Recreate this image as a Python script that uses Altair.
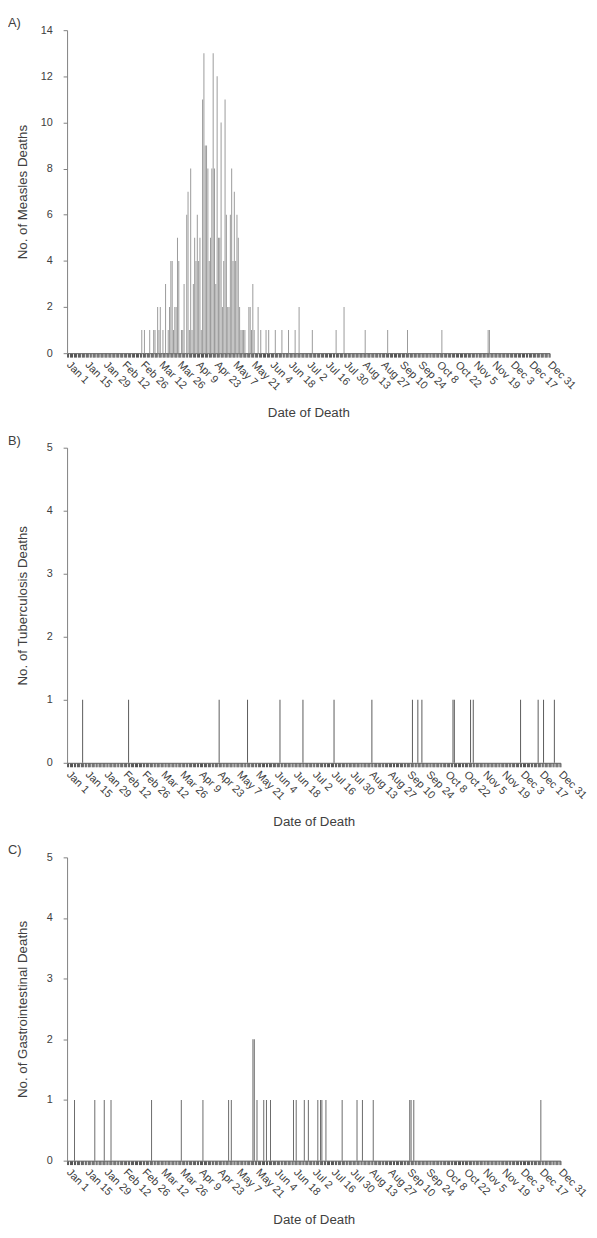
import json
import altair as alt
import pandas as pd

# ---- axis tick labels (every 14 days) ----
TICK_DAYS = [1, 15, 29, 43, 57, 71, 85, 99, 113, 127, 141, 155, 169, 183,
             197, 211, 225, 239, 253, 267, 281, 295, 309, 323, 337, 351, 365]
TICK_LABELS = ["Jan 1", "Jan 15", "Jan 29", "Feb 12", "Feb 26", "Mar 12", "Mar 26",
               "Apr 9", "Apr 23", "May 7", "May 21", "Jun 4", "Jun 18", "Jul 2",
               "Jul 16", "Jul 30", "Aug 13", "Aug 27", "Sep 10", "Sep 24", "Oct 8",
               "Oct 22", "Nov 5", "Nov 19", "Dec 3", "Dec 17", "Dec 31"]
N_DAYS = 365

# ---- Measles deaths (day of year, count) ----
MEASLES_DAYS = [57, 59, 63, 66, 67, 69, 70, 71, 73, 75, 77, 78, 79, 80, 81, 82, 83, 84, 85,
                87, 88, 89, 91, 92, 93, 94, 95,
                96, 97, 98, 99, 100, 101, 102, 103, 104, 105, 106, 107, 108, 109, 110, 111,
                112, 113, 114, 115, 116, 117, 118, 119, 120, 121, 122, 123, 124, 125, 126,
                127, 128, 129, 130, 131, 132, 133, 134, 135, 138, 139, 140, 141, 142, 145,
                147, 151, 153, 158, 163, 168, 173, 176, 186, 204, 210, 226, 243, 258, 284,
                319, 320]
MEASLES_COUNTS = [1, 1, 1, 1, 1, 2, 1, 2, 1, 3, 1, 2, 4, 4, 1, 2, 2, 5, 4,
                  1, 1, 3, 6, 7, 1, 8, 1,
                  3, 5, 4, 6, 4, 5, 1, 11, 13, 9, 9, 8, 4, 5, 8, 13,
                  8, 3, 12, 5, 5, 10, 2, 4, 11, 6, 2, 2, 6, 8, 4,
                  7, 4, 6, 5, 2, 1, 1, 1, 1, 2, 2, 1, 3, 1, 2,
                  1, 1, 1, 1, 1, 1, 1, 2, 1, 1, 2, 1, 1, 1, 1,
                  1, 1]

# ---- Tuberculosis deaths ----
TB_DAYS = [12, 46, 113, 134, 158, 175, 198, 226, 256, 260, 263, 286, 287, 299, 301,
           336, 349, 353, 361]
TB_COUNTS = [1] * len(TB_DAYS)

# ---- Gastrointestinal deaths ----
GI_DAYS = [6, 21, 28, 33, 63, 85, 101, 120, 122, 138, 139, 141, 146, 148, 151, 168,
           170, 176, 179, 186, 188, 189, 192, 204, 215, 219, 227, 254, 255, 257, 351]
GI_COUNTS = [1, 1, 1, 1, 1, 1, 1, 1, 1, 2, 2, 1, 1, 1, 1, 1,
             1, 1, 1, 1, 1, 1, 1, 1, 1, 1, 1, 1, 1, 1, 1]

FONT = "Liberation Sans"
TEXT = "#404040"

label_expr = (
    f"indexof({json.dumps(TICK_DAYS)}, datum.value) >= 0 ? "
    f"{json.dumps(TICK_LABELS)}[indexof({json.dumps(TICK_DAYS)}, datum.value)] : ''"
)


def make_df(days, counts):
    lookup = dict(zip(days, counts))
    return pd.DataFrame({
        "day": list(range(1, N_DAYS + 1)),
        "count": [lookup.get(d, 0) for d in range(1, N_DAYS + 1)],
    })


def panel(days, counts, tag, ytitle, ymax, yvals, width, height, color, ytpad):
    df = make_df(days, counts)
    return alt.Chart(
        df,
        title=alt.TitleParams(tag, anchor="start", frame="group", dx=-60, offset=-6,
                              fontSize=13, fontWeight="normal", font=FONT, color=TEXT),
    ).mark_bar(width=1, color=color).encode(
        x=alt.X("day:O",
                scale=alt.Scale(paddingInner=0, paddingOuter=0),
                axis=alt.Axis(title="Date of Death", labelExpr=label_expr,
                              labelAngle=45, labelAlign="left", labelBaseline="middle",
                              labelFontSize=11, labelFont=FONT, labelColor=TEXT,
                              labelPadding=6, labelOverlap=False, labelBound=False,
                              tickBand="extent", tickSize=4, tickColor="#505050",
                              tickWidth=1, domainColor="#606060", domainWidth=1,
                              titleFontSize=13.5, titleFont=FONT, titleColor=TEXT,
                              titleFontWeight="normal", titlePadding=14, grid=False)),
        y=alt.Y("count:Q",
                scale=alt.Scale(domain=[0, ymax], nice=False),
                axis=alt.Axis(title=ytitle, values=yvals, labelFontSize=11,
                              labelFont=FONT, labelColor=TEXT, labelPadding=11,
                              tickSize=4, tickColor="#808080", domainColor="#808080",
                              titleFontSize=13.5, titleFont=FONT, titleColor=TEXT,
                              titleFontWeight="normal", titlePadding=ytpad, grid=False)),
    ).properties(width=width, height=height)


chart_a = panel(MEASLES_DAYS, MEASLES_COUNTS, "A)", "No. of Measles Deaths", 14,
                [0, 2, 4, 6, 8, 10, 12, 14], 490, 328, "#9a9a9a", 11)
chart_b = panel(TB_DAYS, TB_COUNTS, "B)", "No. of Tuberculosis Deaths", 5,
                [0, 1, 2, 3, 4, 5], 501, 320, "#5a5a5a", 17)
chart_c = panel(GI_DAYS, GI_COUNTS, "C)", "No. of Gastrointestinal Deaths", 5,
                [0, 1, 2, 3, 4, 5], 501, 308, "#6a6a6a", 17)

chart = alt.vconcat(chart_a, chart_b, chart_c, spacing=16).properties(
    padding=0
).configure_view(strokeWidth=0)

chart.save("out.html", embed_options={"renderer": "svg", "actions": False})
